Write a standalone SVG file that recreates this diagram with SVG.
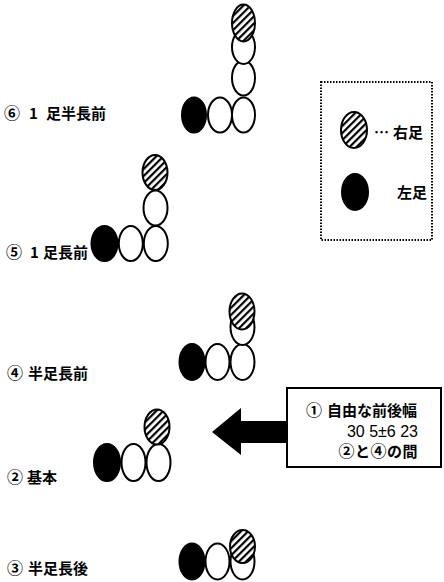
<svg xmlns="http://www.w3.org/2000/svg" width="444" height="582" viewBox="0 0 444 582">
<style>
.w{fill:#fff;stroke:#000;stroke-width:2}
.b{fill:#000;stroke:#000;stroke-width:2}
.h{fill:url(#hatch);stroke:#000;stroke-width:2}
.t{font-family:"Noto Sans CJK JP","Noto Sans",sans-serif;font-weight:bold;font-size:15px;fill:#000}
.c{font-size:16px;font-weight:bold}
.n{font-family:"Liberation Sans","Noto Sans CJK JP",sans-serif;font-size:16px;fill:#000}
</style>
<defs>
<pattern id="hatch" patternUnits="userSpaceOnUse" width="5" height="5" patternTransform="rotate(-45)">
<rect width="5" height="5" fill="#fff"/>
<rect width="5" height="2.2" fill="#000"/>
</pattern>
</defs>
<rect width="444" height="582" fill="#fff"/>

<g id="legend">
<rect x="321" y="82" width="111" height="158" fill="none" stroke="#000" stroke-width="2" stroke-dasharray="1.5 1.5"/>
<ellipse class="h" cx="354" cy="130" rx="13" ry="18"/>
<text class="t" x="374" y="138" font-weight="normal">…</text>
<text class="t" x="393" y="138">右足</text>
<ellipse class="b" cx="355" cy="192" rx="13" ry="18"/>
<text class="t" x="397" y="198">左足</text>
</g>

<g id="fig6">
<ellipse class="b" cx="194" cy="115" rx="12" ry="17.5"/>
<ellipse class="w" cx="220" cy="115" rx="12" ry="17.5"/>
<ellipse class="w" cx="243.5" cy="115" rx="11.5" ry="17.5"/>
<ellipse class="w" cx="243.5" cy="78" rx="11.5" ry="17.5"/>
<ellipse class="w" cx="243.5" cy="47" rx="11.5" ry="17"/>
<ellipse class="h" cx="243.5" cy="23" rx="11.5" ry="18.5"/>
<text class="t" y="119"><tspan class="c" x="4">⑥</tspan><tspan x="29">1</tspan><tspan x="46">足半長前</tspan></text>
</g>

<g id="fig5">
<ellipse class="b" cx="104.5" cy="243.5" rx="13" ry="17.5"/>
<ellipse class="w" cx="130.8" cy="243.5" rx="12" ry="17.5"/>
<ellipse class="w" cx="155.8" cy="243.5" rx="12" ry="17.5"/>
<ellipse class="w" cx="155.5" cy="208" rx="12" ry="17.5"/>
<ellipse class="h" cx="155" cy="172.5" rx="12.5" ry="17.5"/>
<text class="t" y="258"><tspan class="c" x="6">⑤</tspan><tspan x="30">1</tspan><tspan x="43">足長前</tspan></text>
</g>

<g id="fig4">
<ellipse class="b" cx="192" cy="362" rx="12.5" ry="18"/>
<ellipse class="w" cx="217.5" cy="362" rx="12" ry="18"/>
<ellipse class="w" cx="242.5" cy="362" rx="12" ry="18"/>
<ellipse class="w" cx="242.5" cy="327" rx="12" ry="18"/>
<ellipse class="h" cx="242" cy="311.5" rx="12.5" ry="18"/>
<text class="t" y="379"><tspan class="c" x="7">④</tspan><tspan x="28">半足長前</tspan></text>
</g>

<g id="fig2">
<ellipse class="b" cx="107" cy="462.5" rx="13" ry="18.5"/>
<ellipse class="w" cx="133.5" cy="462.5" rx="12" ry="18.5"/>
<ellipse class="w" cx="158.5" cy="462.5" rx="12" ry="18.5"/>
<ellipse class="h" cx="157" cy="427" rx="12.5" ry="17.5"/>
<text class="t" y="483"><tspan class="c" x="7">②</tspan><tspan x="27">基本</tspan></text>
</g>

<g id="fig3">
<ellipse class="b" cx="192" cy="561.5" rx="12.5" ry="18"/>
<ellipse class="w" cx="217.5" cy="561.5" rx="12" ry="18"/>
<ellipse class="w" cx="242.5" cy="561.5" rx="12" ry="18"/>
<ellipse class="h" cx="242.5" cy="546.5" rx="12.5" ry="16.5"/>
<text class="t" y="574"><tspan class="c" x="7">③</tspan><tspan x="28">半足長後</tspan></text>
</g>

<g id="connectors">
<polygon points="212,432 241,408 241,421 287,421 287,443 241,443 241,455" fill="#000"/>
</g>

<g id="note">
<rect x="287" y="388" width="154" height="79" fill="#fff" stroke="#000" stroke-width="2"/>
<text class="t" y="416"><tspan class="c" x="306">①</tspan><tspan x="327">自由な前後幅</tspan></text>
<text class="n" x="418" y="437" text-anchor="end">30 5±6 23</text>
<text class="t" x="418" y="457" text-anchor="end" letter-spacing="0.5"><tspan class="c">②</tspan>と<tspan class="c">④</tspan>の間</text>
</g>
</svg>
